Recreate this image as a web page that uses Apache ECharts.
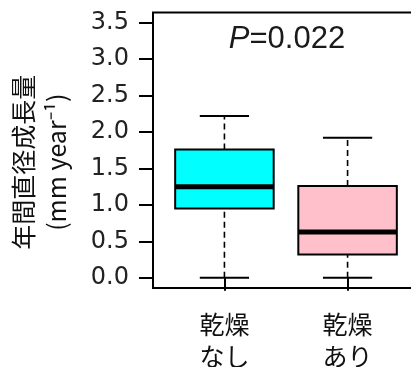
<!DOCTYPE html>
<html>
<head>
<meta charset="utf-8">
<script src="https://cdn.jsdelivr.net/npm/echarts@6/dist/echarts.min.js"></script>
<style>
html,body{margin:0;padding:0;background:#fff;}
#chart{width:411px;height:367px;}
</style>
</head>
<body>
<div id="chart"></div>
<script>
// ---- data ----
const categories = ['乾燥\nなし', '乾燥\nあり'];
const lowerWhisker = [0.00, 0.00];
const lowerQuartile = [0.95, 0.32];
const medianValues = [1.25, 0.63];
const upperQuartile = [1.76, 1.26];
const upperWhisker = [2.22, 1.92];
const yTickValues = [0, 0.5, 1.0, 1.5, 2.0, 2.5, 3.0, 3.5];
const pText = '=0.022';

// ---- styles ----
const boxColors = ['#00FFFF', '#FFC0CB'];

const boxData = categories.map((c, i) => [i + 1, lowerWhisker[i], lowerQuartile[i], medianValues[i], upperQuartile[i], upperWhisker[i]]);
const catPositions = categories.map((c, i) => i + 1);

const chart = echarts.init(document.getElementById('chart'), null, {renderer: 'canvas'});

const BOX_HALF = 0.4, CAP_HALF = 0.2;

function renderItem(params, api) {
  const x = api.value(0);
  const lo = api.value(1), q1 = api.value(2), med = api.value(3), q3 = api.value(4), hi = api.value(5);
  const c = (xv, yv) => api.coord([xv, yv]);
  const pLo = c(x, lo), pQ1 = c(x, q1), pQ3 = c(x, q3), pHi = c(x, hi);
  const capL_lo = c(x - CAP_HALF, lo), capR_lo = c(x + CAP_HALF, lo);
  const capL_hi = c(x - CAP_HALF, hi), capR_hi = c(x + CAP_HALF, hi);
  const bTL = c(x - BOX_HALF, q3), bBR = c(x + BOX_HALF, q1);
  const mL = c(x - BOX_HALF, med), mR = c(x + BOX_HALF, med);
  const dashStyle = {stroke: '#000', lineWidth: 1.6, lineDash: [6, 4]};
  const solid = {stroke: '#000', lineWidth: 2};
  return {
    type: 'group',
    children: [
      {type: 'line', shape: {x1: pLo[0], y1: pLo[1], x2: pQ1[0], y2: pQ1[1]}, style: dashStyle},
      {type: 'line', shape: {x1: pQ3[0], y1: pQ3[1], x2: pHi[0], y2: pHi[1]}, style: dashStyle},
      {type: 'line', shape: {x1: capL_lo[0], y1: capL_lo[1], x2: capR_lo[0], y2: capR_lo[1]}, style: solid},
      {type: 'line', shape: {x1: capL_hi[0], y1: capL_hi[1], x2: capR_hi[0], y2: capR_hi[1]}, style: solid},
      {type: 'rect', shape: {x: bTL[0], y: bTL[1], width: bBR[0] - bTL[0], height: bBR[1] - bTL[1]},
        style: {fill: boxColors[params.dataIndex], stroke: '#000', lineWidth: 2}},
      {type: 'line', shape: {x1: mL[0], y1: mL[1], x2: mR[0], y2: mR[1]}, style: {stroke: '#000', lineWidth: 5}}
    ]
  };
}

const option = {
  backgroundColor: '#fff',
  animation: false,
  title: {
    text: '{i|P}{n|' + pText + '}',
    left: 287,
    top: 24,
    textAlign: 'center',
    padding: 0,
    textStyle: {
      fontWeight: 'normal',
      rich: {
        i: {fontFamily: 'Liberation Sans', fontStyle: 'italic', fontWeight: 'normal', fontSize: 31, color: '#1a1a1a'},
        n: {fontFamily: 'Liberation Sans', fontWeight: 'normal', fontSize: 31, color: '#1a1a1a'}
      }
    }
  },
  grid: {
    left: 153, top: 12.5, right: -8, bottom: 79,
    show: true, borderColor: '#000', borderWidth: 2, backgroundColor: 'transparent',
    containLabel: false,
    outerBoundsMode: 'none'
  },
  xAxis: {
    type: 'value', min: 0.42, max: 2.58,
    axisLine: {show: false},
    splitLine: {show: false},
    axisTick: {show: true, customValues: catPositions, length: 13, inside: false, lineStyle: {color: '#000', width: 2}},
    axisLabel: {
      customValues: catPositions,
      formatter: v => categories[Math.round(v) - 1],
      fontFamily: 'Noto Sans CJK JP', fontSize: 25, lineHeight: 32, color: '#111', margin: 20
    }
  },
  yAxis: {
    type: 'value', min: -0.14, max: 3.64,
    name: '年間直径成長量\n(mm year⁻¹)',
    nameLocation: 'middle', nameRotate: 90, nameGap: 80,
    nameTextStyle: {fontFamily: 'Noto Sans CJK JP', fontSize: 25, lineHeight: 33, color: '#111', padding: [0, 24, 0, 0]},
    axisLine: {show: false},
    splitLine: {show: false},
    axisTick: {show: true, customValues: yTickValues, length: 14, inside: false, lineStyle: {color: '#000', width: 2}},
    axisLabel: {
      customValues: yTickValues,
      formatter: v => v.toFixed(1),
      fontFamily: 'DejaVu Sans', fontSize: 24, color: '#222', margin: 24
    }
  },
  series: [{
    type: 'custom',
    renderItem: renderItem,
    data: boxData,
    encode: {x: 0, y: [1, 2, 3, 4, 5]},
    clip: false
  }]
};
chart.setOption(option);
</script>
</body>
</html>
